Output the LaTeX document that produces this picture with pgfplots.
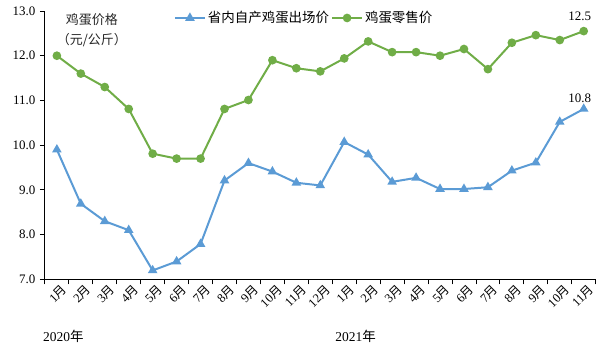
\documentclass[border=0pt]{standalone}
\usepackage{pgfplots}
\pgfplotsset{compat=1.18}
\usepackage{fontspec}
\setmainfont{Liberation Serif}
\newfontfamily\cjk{Noto Sans CJK SC}
\newcommand\yue{{\cjk 月}}
\definecolor{cblue}{RGB}{91,155,213}
\definecolor{cgreen}{RGB}{112,173,71}
\begin{document}
\fontsize{13}{15}\selectfont
\begin{tikzpicture}
\path (-45pt,-71pt) rectangle (555pt,280pt);
\begin{axis}[
  scale only axis, width=552pt, height=269pt,
  at={(0pt,0pt)}, anchor=south west,
  xmin=-0.5, xmax=22.5, ymin=7, ymax=13,
  axis x line*=bottom, axis y line*=left,
  axis line style={black, line width=1pt},
  tick align=outside,
  tick style={black, line width=0.9pt},
  major tick length=5pt,
  xtick={-0.5,0.5,...,22.5},
  xticklabels={},
  extra x ticks={0,...,22},
  extra x tick labels={1\yue,2\yue,3\yue,4\yue,5\yue,6\yue,7\yue,8\yue,9\yue,10\yue,11\yue,12\yue,1\yue,2\yue,3\yue,4\yue,5\yue,6\yue,7\yue,8\yue,9\yue,10\yue,11\yue},
  extra x tick style={major tick length=0pt, xticklabel style={rotate=45, anchor=east, inner sep=1pt, xshift=1pt, yshift=-11pt, font=\fontsize{12.5}{14}\selectfont}},
  ytick={7,8,...,13},
  yticklabel style={/pgf/number format/fixed, /pgf/number format/fixed zerofill, /pgf/number format/precision=1, /pgf/number format/assume math mode=true, font=\fontsize{13}{15}\selectfont},
  legend style={draw=none, fill=none, at={(0.234,0.974)}, anchor=west, legend columns=2,
     font=\cjk\fontsize{13.5}{15}\selectfont, inner sep=0pt,
     /tikz/every even column/.append style={column sep=0pt}},
  legend image code/.code={\draw[#1, mark repeat=2, mark phase=2] plot coordinates {(0pt,0pt) (15pt,0pt) (30pt,0pt)};},
  clip=false,
]
\addplot[cblue, line width=2pt, mark=triangle*, mark size=3.6pt] coordinates {
(0,9.90) (1,8.69) (2,8.30) (3,8.10) (4,7.20) (5,7.40) (6,7.79) (7,9.21) (8,9.60) (9,9.41) (10,9.16) (11,9.10)
(12,10.07) (13,9.79) (14,9.18) (15,9.27) (16,9.02) (17,9.02) (18,9.06) (19,9.43) (20,9.61) (21,10.52) (22,10.81)};
\addlegendentry{省内自产鸡蛋出场价}
\addplot[cgreen, line width=2pt, mark=*, mark size=3.3pt] coordinates {
(0,12.00) (1,11.60) (2,11.30) (3,10.81) (4,9.81) (5,9.70) (6,9.70) (7,10.81) (8,11.01) (9,11.90) (10,11.72) (11,11.65)
(12,11.94) (13,12.32) (14,12.08) (15,12.08) (16,12.00) (17,12.15) (18,11.70) (19,12.29) (20,12.46) (21,12.35) (22,12.55)};
\addlegendentry{鸡蛋零售价}
\node[anchor=south, inner sep=0pt] at ([xshift=-4pt,yshift=10pt]axis cs:22,12.55) {12.5};
\node[anchor=south, inner sep=0pt] at ([xshift=-4pt,yshift=6pt]axis cs:22,10.81) {10.8};
\node[font=\cjk\fontsize{13}{15}\selectfont, text=black!85] at ([xshift=47pt,yshift=260pt]rel axis cs:0,0) {鸡蛋价格};
\node[font=\cjk\fontsize{13}{15}\selectfont, text=black!85] at ([xshift=47pt,yshift=240pt]rel axis cs:0,0) {（元/公斤）};
\node[anchor=west, inner sep=0pt, font=\fontsize{13.5}{15}\selectfont] at ([xshift=-2pt,yshift=-57pt]rel axis cs:0,0) {2020{\cjk 年}};
\node[anchor=west, inner sep=0pt, font=\fontsize{13.5}{15}\selectfont] at ([xshift=291pt,yshift=-57pt]rel axis cs:0,0) {2021{\cjk 年}};
\end{axis}
\end{tikzpicture}
\end{document}
